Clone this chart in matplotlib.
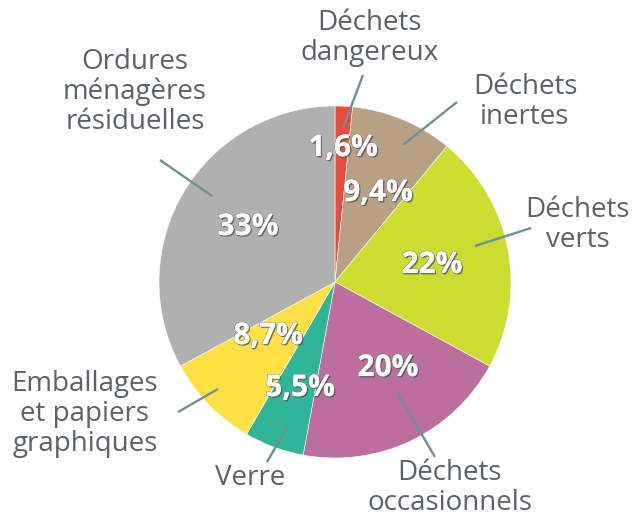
import numpy as np
import matplotlib.pyplot as plt
import matplotlib.patheffects as pe

# data
categories = ['Déchets\ndangereux', 'Déchets\ninertes', 'Déchets\nverts', 'Déchets\noccasionnels',
              'Verre', 'Emballages\net papiers\ngraphiques', 'Ordures\nménagères\nrésiduelles']
values = [1.6, 9.4, 22, 20, 5.5, 8.7, 33]
pct_labels = ['1,6%', '9,4%', '22%', '20%', '5,5%', '8,7%', '33%']
colors = ['#e84c3d', '#b8a084', '#cddc30', '#bc6f9f', '#30b49a', '#fde043', '#b0b0b0']

# layout (pixel coords)
CX, CY, R = 335, 282, 176
pct_pos = [(343, 148), (378, 193), (432, 265), (388, 368), (300, 388), (268, 336), (248, 227)]
label_pos = [(370, 38), (525, 102), (578, 225), (450, 488), (250, 478), (85, 414), (135, 92)]
line_out = [(363, 75), (457, 102), (531, 228), (435, 457), (267, 462), (178, 412), (160, 160)]
line_in = [(343, 128), (403, 145), (475, 246), (398, 394), (288, 426), (218, 389), (212, 196)]

plt.rcParams['font.family'] = ['Open Sans', 'DejaVu Sans']

fig = plt.figure(figsize=(6.35, 5.16), dpi=100)
ax = fig.add_axes([0, 0, 1, 1])

# y axis is inverted below, so start at -90 and go counterclockwise in data
ax.pie(values, colors=colors, startangle=-90, counterclock=True, center=(CX, CY), radius=R,
       wedgeprops=dict(edgecolor='white', linewidth=0.4), frame=True)
ax.set_xlim(0, 635)
ax.set_ylim(516, 0)
ax.set_aspect('equal')
ax.axis('off')

shadow = [pe.withSimplePatchShadow(offset=(1, -1), shadow_rgbFace='#444444', alpha=0.7),
          pe.withStroke(linewidth=0.8, foreground='#777777'), pe.Normal()]
for (x, y), t in zip(pct_pos, pct_labels):
    ax.text(x, y, t, ha='center', va='center', fontsize=21.5, fontweight='bold',
            color='white', path_effects=shadow)

for (x, y), t in zip(label_pos, categories):
    ax.text(x, y, t, ha='center', va='center', fontsize=20, color='#5b6166', linespacing=1.1)

for (x0, y0), (x1, y1) in zip(line_in, line_out):
    ax.plot([x0, x1], [y0, y1], color='#6f9094', lw=1.7, solid_capstyle='butt')

fig.savefig('out.png', dpi=100)
